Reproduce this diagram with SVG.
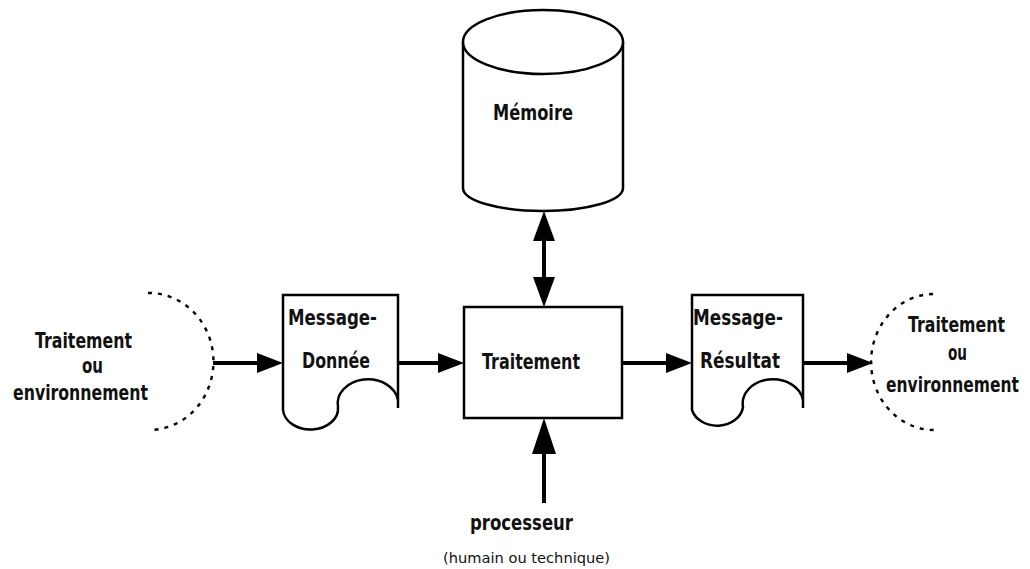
<svg xmlns="http://www.w3.org/2000/svg" width="1030" height="569" viewBox="0 0 1030 569">
<style>
.shape{fill:#fff;stroke:#000;stroke-width:2.5}
.dash{fill:none;stroke:#000;stroke-width:2.4;stroke-dasharray:4 6}
.lbl{font-family:"DejaVu Sans","Liberation Sans",sans-serif;font-weight:bold;font-size:21px;fill:#111}
.small{font-family:"DejaVu Sans","Liberation Sans",sans-serif;font-size:14px;fill:#111}
.conn{stroke:#000;stroke-width:4;fill:none}
</style>
<defs>
<marker id="ah" viewBox="0 0 26 20" refX="16" refY="10" markerWidth="26" markerHeight="20" markerUnits="userSpaceOnUse" orient="auto-start-reverse"><path d="M0,0 L26,10 L0,20 Z" fill="#000"/></marker>
<marker id="av" viewBox="0 0 30 22" refX="20" refY="11" markerWidth="30" markerHeight="22" markerUnits="userSpaceOnUse" orient="auto-start-reverse"><path d="M0,0 L30,11 L0,22 Z" fill="#000"/></marker>
<marker id="ab" viewBox="0 0 36 24" refX="26" refY="12" markerWidth="36" markerHeight="24" markerUnits="userSpaceOnUse" orient="auto"><path d="M0,0 L36,12 L0,24 Z" fill="#000"/></marker>
</defs>
<rect width="1030" height="569" fill="#fff"/>

<g id="memoire">
<path class="shape" d="M463,42 V188 A80,23 0 0 0 623,188 V42"/>
<ellipse class="shape" cx="543" cy="42" rx="80" ry="32"/>
<text class="lbl" x="493" y="120" textLength="80" lengthAdjust="spacingAndGlyphs">Mémoire</text>
</g>

<g id="source">
<path class="dash" d="M148,293 A64,68 0 0 1 150,430"/>
<text class="lbl" x="35" y="348" textLength="97" lengthAdjust="spacingAndGlyphs">Traitement</text>
<text class="lbl" x="82" y="373" textLength="21" lengthAdjust="spacingAndGlyphs">ou</text>
<text class="lbl" x="13" y="400" textLength="135" lengthAdjust="spacingAndGlyphs">environnement</text>
</g>

<g id="message-donnee">
<path class="shape" d="M398,408 V295 H283 V410 A27.5,21 0 0 0 338,407 A30,24 0 0 1 398,400"/>
<text class="lbl" x="288" y="325" textLength="89" lengthAdjust="spacingAndGlyphs">Message-</text>
<text class="lbl" x="302" y="368" textLength="68" lengthAdjust="spacingAndGlyphs">Donnée</text>
</g>

<g id="traitement">
<rect class="shape" x="464" y="307" width="158" height="111"/>
<text class="lbl" x="482" y="369" textLength="98" lengthAdjust="spacingAndGlyphs">Traitement</text>
</g>

<g id="message-resultat">
<path class="shape" d="M803,408 V295 H692 V410 A26,21 0 0 0 743,407 A30,24 0 0 1 803,400"/>
<text class="lbl" x="693" y="325" textLength="90" lengthAdjust="spacingAndGlyphs">Message-</text>
<text class="lbl" x="700" y="368" textLength="80" lengthAdjust="spacingAndGlyphs">Résultat</text>
</g>

<g id="destination">
<path class="dash" d="M933,294 A62,67 0 0 0 935,430"/>
<text class="lbl" x="908" y="332" textLength="97" lengthAdjust="spacingAndGlyphs">Traitement</text>
<text class="lbl" x="948" y="360" textLength="19" lengthAdjust="spacingAndGlyphs">ou</text>
<text class="lbl" x="886" y="392" textLength="133" lengthAdjust="spacingAndGlyphs">environnement</text>
</g>

<g id="processeur">
<text class="lbl" x="470" y="530" textLength="103" lengthAdjust="spacingAndGlyphs">processeur</text>
<text class="small" x="443" y="563" textLength="167" lengthAdjust="spacingAndGlyphs">(humain ou technique)</text>
</g>

<g id="connectors">
<line class="conn" x1="213" y1="363" x2="273" y2="363" marker-end="url(#ah)"/>
<line class="conn" x1="398" y1="363" x2="454" y2="363" marker-end="url(#ah)"/>
<line class="conn" x1="622" y1="363" x2="682" y2="363" marker-end="url(#ah)"/>
<line class="conn" x1="803" y1="363" x2="863" y2="363" marker-end="url(#ah)"/>
<line class="conn" x1="544" y1="221" x2="544" y2="297" marker-start="url(#av)" marker-end="url(#av)"/>
<line class="conn" x1="544" y1="503" x2="544" y2="428" marker-end="url(#ab)"/>
</g>
</svg>
